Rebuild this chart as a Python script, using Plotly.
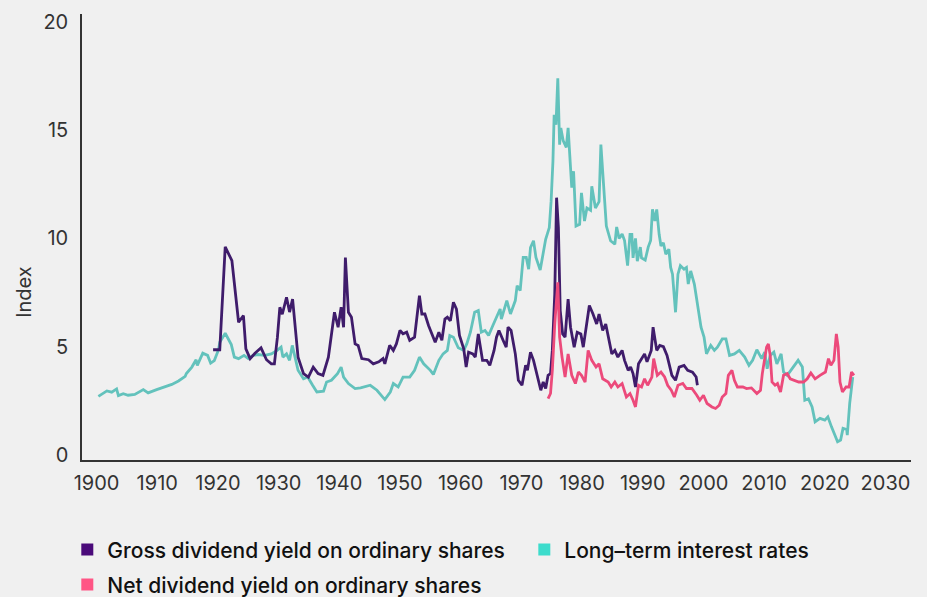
import plotly.graph_objects as go

# ---------------- data ----------------
long_years = [1900.3, 1901.7, 1902.5, 1903.3, 1903.6, 1904.4, 1905.2, 1906.3, 1907.7, 1908.5,
              1909.9, 1911.0, 1912.4, 1913.5, 1914.6, 1914.8, 1915.7, 1916.4, 1916.6, 1917.5,
              1918.3, 1918.8, 1919.4, 1920.1, 1920.3, 1921.2, 1921.8, 1922.2, 1922.7, 1923.4,
              1924.3, 1925.0, 1925.8, 1926.6, 1927.7, 1928.8, 1929.6, 1930.4, 1930.7, 1931.3,
              1931.8, 1932.25, 1932.7, 1933.2, 1934.1, 1934.8, 1935.6, 1936.3, 1937.4, 1937.9,
              1938.7, 1939.7, 1940.3, 1940.7, 1941.5, 1942.6, 1943.5, 1945.1, 1946.2, 1947.5,
              1948.4, 1948.9, 1949.7, 1950.5, 1951.6, 1952.4, 1953.2, 1953.9, 1955.0, 1955.5,
              1956.4, 1957.1, 1957.8, 1958.2, 1958.8, 1959.6, 1960.5, 1961.0, 1961.6, 1962.3,
              1962.9, 1963.4, 1964.0, 1964.6, 1965.3, 1965.9, 1966.5, 1966.7, 1967.6, 1968.2,
              1969.0, 1969.3, 1969.8, 1970.3, 1970.8, 1971.2, 1971.5, 1972.0, 1972.4, 1973.1,
              1973.6, 1974.0, 1974.6, 1974.9, 1975.2, 1975.4, 1975.7, 1976.0, 1976.3, 1976.5,
              1976.9, 1977.4, 1977.7, 1978.3, 1978.6, 1979.0, 1979.6, 1979.9, 1980.4, 1980.8,
              1981.4, 1981.6, 1982.2, 1982.8, 1983.1, 1983.6, 1984.0, 1984.7, 1985.4, 1985.7,
              1986.1, 1986.6, 1987.0, 1987.5, 1987.9, 1988.2, 1988.4, 1988.8, 1989.1, 1989.6,
              1989.8, 1990.4, 1990.9, 1991.3, 1991.6, 1992.0, 1992.3, 1992.7, 1993.0, 1993.4,
              1993.8, 1994.3, 1994.6, 1994.9, 1995.4, 1995.8, 1996.2, 1996.8, 1997.2, 1997.5,
              1997.9, 1998.5, 1999.0, 1999.6, 2000.1, 2000.5, 2001.2, 2001.8, 2002.3, 2003.1,
              2003.7, 2004.3, 2005.1, 2005.9, 2006.8, 2007.5, 2008.1, 2008.8, 2009.6, 2010.1,
              2010.5, 2011.0, 2011.6, 2012.1, 2012.8, 2013.2, 2013.8, 2014.6, 2015.6, 2016.3,
              2016.7, 2017.3, 2017.9, 2018.4, 2019.2, 2020.0, 2020.5, 2021.1, 2021.5, 2022.1,
              2022.6, 2023.0, 2023.6, 2023.7, 2024.1, 2024.6]
long_rates = [2.71, 2.96, 2.90, 3.05, 2.74, 2.83, 2.76, 2.80, 3.02, 2.87,
              3.02, 3.11, 3.26, 3.42, 3.63, 3.76, 4.06, 4.40, 4.14, 4.70,
              4.60, 4.24, 4.36, 4.86, 5.21, 5.62, 5.29, 5.10, 4.52, 4.45,
              4.60, 4.45, 4.60, 4.64, 4.60, 4.67, 4.80, 4.98, 4.52, 4.67,
              4.37, 5.06, 4.52, 3.91, 3.52, 3.60, 3.22, 2.91, 2.95, 3.37,
              3.45, 3.76, 4.06, 3.60, 3.30, 3.07, 3.10, 3.22, 2.99, 2.56,
              2.91, 3.30, 3.14, 3.60, 3.60, 3.91, 4.52, 4.21, 3.91, 3.72,
              4.37, 4.67, 4.83, 5.52, 5.44, 4.95, 4.83, 5.13, 5.67, 6.59,
              6.67, 5.67, 5.75, 5.52, 5.98, 6.36, 6.74, 6.28, 7.13, 6.51,
              7.13, 7.82, 7.59, 9.12, 9.12, 8.58, 9.58, 9.89, 9.12, 8.54,
              9.43, 9.96, 10.50, 11.72, 13.56, 15.71, 15.25, 17.39, 14.33, 15.10,
              14.50, 14.20, 15.10, 12.34, 13.10, 10.57, 10.65, 12.10, 10.80, 11.40,
              11.30, 12.41, 11.40, 11.70, 14.33, 12.49, 10.57, 9.89, 9.73, 10.53,
              10.00, 10.20, 9.90, 8.74, 10.19, 10.19, 9.10, 10.00, 8.95, 9.60,
              9.10, 9.00, 9.60, 9.90, 11.34, 10.80, 11.34, 10.19, 9.65, 9.80,
              9.27, 9.50, 8.66, 8.35, 6.59, 8.35, 8.74, 8.58, 8.66, 7.89,
              8.50, 7.89, 6.90, 5.90, 5.44, 4.67, 5.06, 4.83, 4.98, 5.36,
              5.36, 4.60, 4.67, 4.83, 4.52, 4.14, 4.37, 4.86, 4.45, 4.75,
              3.98, 4.60, 4.75, 4.21, 4.67, 3.83, 3.68, 3.98, 4.37, 4.06,
              2.53, 2.60, 2.22, 1.53, 1.69, 1.61, 1.76, 1.30, 1.00, 0.61,
              0.69, 1.23, 1.18, 0.92, 2.38, 3.60]

gross_years = [1919.2, 1920.3, 1921.2, 1922.3, 1923.4, 1924.2, 1924.6, 1925.3, 1926.1, 1927.1,
               1928.0, 1928.8, 1929.3, 1929.8, 1930.2, 1930.6, 1931.3, 1931.8, 1932.3, 1932.8,
               1933.2, 1934.1, 1934.9, 1935.7, 1936.5, 1937.3, 1938.2, 1939.2, 1939.8, 1940.3,
               1940.7, 1941.0, 1941.5, 1942.0, 1942.6, 1943.1, 1943.7, 1944.8, 1945.6, 1946.5,
               1947.2, 1947.5, 1948.3, 1948.9, 1949.4, 1950.0, 1950.5, 1951.1, 1951.6, 1952.4,
               1952.8, 1953.2, 1953.6, 1954.1, 1954.7, 1955.2, 1955.8, 1956.4, 1956.9, 1957.4,
               1957.8, 1958.3, 1958.8, 1959.3, 1959.8, 1960.5, 1960.9, 1961.3, 1962.0, 1962.4,
               1962.9, 1963.6, 1964.3, 1964.8, 1965.5, 1965.9, 1966.3, 1967.0, 1967.5, 1967.8,
               1968.3, 1969.0, 1969.5, 1970.1, 1970.7, 1971.0, 1971.5, 1972.0, 1972.6, 1973.2,
               1973.6, 1974.0, 1974.4, 1974.8, 1975.1, 1975.5, 1975.8, 1976.1, 1976.4, 1976.8,
               1977.2, 1977.7, 1978.1, 1978.7, 1979.2, 1979.8, 1980.2, 1980.7, 1981.2, 1981.8,
               1982.4, 1982.8, 1983.4, 1983.9, 1984.5, 1984.9, 1985.4, 1985.9, 1986.6, 1987.0,
               1987.6, 1988.0, 1988.4, 1988.8, 1989.3, 1989.8, 1990.3, 1990.7, 1991.4, 1991.7,
               1992.3, 1992.8, 1993.4, 1994.0, 1994.8, 1995.4, 1996.0, 1996.8, 1997.4, 1998.2,
               1998.8, 1999.0]
gross_yield = [4.86, 4.86, 9.61, 8.97, 6.13, 6.44, 4.90, 4.45, 4.70, 4.95,
               4.40, 4.21, 4.21, 5.44, 6.82, 6.50, 7.28, 6.60, 7.20, 5.75,
               4.52, 3.76, 3.60, 4.06, 3.76, 3.68, 4.52, 6.59, 5.90, 6.82,
               5.90, 9.12, 6.59, 6.36, 5.13, 5.06, 4.45, 4.40, 4.21, 4.30,
               4.45, 4.21, 5.06, 4.83, 5.13, 5.75, 5.60, 5.67, 5.29, 5.44,
               6.51, 7.36, 6.51, 6.51, 5.98, 5.60, 5.21, 5.67, 5.30, 6.28,
               6.36, 6.20, 7.05, 6.74, 5.52, 4.90, 4.06, 4.75, 4.67, 4.52,
               5.59, 4.37, 4.37, 4.14, 4.83, 5.44, 5.75, 5.29, 4.98, 5.90,
               5.75, 4.67, 3.45, 3.22, 4.14, 3.91, 4.75, 4.37, 3.60, 2.99,
               3.37, 3.07, 3.68, 3.76, 4.83, 7.43, 11.88, 10.50, 6.67, 5.59,
               5.44, 7.20, 5.90, 4.98, 5.67, 5.59, 4.98, 5.90, 6.90, 6.51,
               6.05, 6.51, 5.75, 6.05, 5.29, 4.67, 4.83, 4.52, 4.83, 4.37,
               3.91, 4.06, 3.76, 3.14, 4.21, 4.45, 4.67, 4.30, 4.83, 5.90,
               4.83, 5.06, 5.00, 4.60, 3.68, 3.45, 4.06, 4.14, 3.91, 3.83,
               3.60, 3.22]

net_years = [1974.4, 1974.8, 1975.1, 1975.5, 1976.0, 1976.3, 1976.7, 1977.2, 1977.7, 1978.3,
             1978.9, 1979.4, 1979.9, 1980.5, 1981.0, 1981.6, 1982.3, 1982.8, 1983.4, 1984.3,
             1984.8, 1985.4, 1985.9, 1986.6, 1987.3, 1987.9, 1988.4, 1988.8, 1989.3, 1989.8,
             1990.3, 1990.8, 1991.5, 1991.8, 1992.4, 1993.0, 1993.6, 1994.1, 1994.7, 1995.2,
             1995.8, 1996.6, 1997.2, 1998.1, 1998.9, 1999.4, 2000.0, 2000.6, 2001.4, 2002.0,
             2002.6, 2003.1, 2003.7, 2004.1, 2004.7, 2005.1, 2005.6, 2006.5, 2007.1, 2007.9,
             2008.8, 2009.4, 2009.7, 2010.1, 2010.4, 2010.7, 2011.0, 2011.3, 2011.8, 2012.2,
             2012.7, 2013.2, 2013.8, 2014.3, 2015.0, 2015.7, 2016.5, 2017.1, 2017.7, 2018.4,
             2019.2, 2020.1, 2020.6, 2021.0, 2021.5, 2021.9, 2022.2, 2022.5, 2022.9, 2023.5,
             2024.0, 2024.4, 2024.8]
net_yield = [2.60, 2.84, 3.91, 6.05, 7.97, 5.44, 4.52, 3.60, 4.67, 3.68,
             3.30, 3.83, 3.68, 3.37, 4.83, 4.37, 4.06, 4.21, 3.52, 3.37,
             3.14, 3.37, 3.14, 3.30, 2.68, 2.84, 2.53, 2.22, 3.22, 3.14,
             3.52, 3.22, 3.60, 4.45, 3.68, 3.83, 3.60, 3.22, 2.99, 2.68,
             3.22, 3.30, 3.07, 3.07, 2.76, 2.53, 2.76, 2.38, 2.22, 2.15,
             2.30, 2.68, 2.84, 3.68, 3.91, 3.45, 3.14, 3.14, 3.07, 3.10,
             2.84, 2.99, 3.76, 4.37, 4.98, 5.13, 4.60, 3.37, 3.22, 3.30,
             2.91, 3.68, 3.76, 3.52, 3.45, 3.37, 3.37, 3.52, 3.79, 3.52,
             3.68, 3.83, 4.45, 4.14, 4.37, 5.59, 4.98, 3.37, 2.91, 3.14,
             3.14, 3.83, 3.68]

series_names = ["Gross dividend yield on ordinary shares",
                "Long\u2013term interest rates",
                "Net dividend yield on ordinary shares"]
x_ticks = list(range(1900, 2031, 10))
y_ticks = [0, 5, 10, 15, 20]

# ---------------- styles ----------------
line_colors = ["#3f1c6b", "#63c2bc", "#ec4a7b"]
legend_colors = ["#4a0a7a", "#3ddccc", "#ff5585"]
BG = "#f0f0f0"
FONT = "Inter"

fig = go.Figure()
series_x = [gross_years, long_years, net_years]
series_y = [gross_yield, long_rates, net_yield]
# draw order: long-term first, gross, net on top
for i in [1, 0, 2]:
    fig.add_trace(go.Scatter(x=series_x[i], y=series_y[i], mode="lines",
                             line=dict(color=line_colors[i], width=2.8),
                             name=series_names[i], showlegend=False,
                             hoverinfo="x+y"))

# legend entries (square swatches), one legend box per entry for exact placement
legend_ids = ["legend", "legend3", "legend2"]
for i in range(3):
    fig.add_trace(go.Scatter(x=[None], y=[None], mode="markers",
                             marker=dict(symbol="square", size=12, color=legend_colors[i]),
                             name=series_names[i], legend=legend_ids[i], showlegend=True))

legend_font = dict(size=21, color="#111111", weight=500)
def legend_box(x, y):
    return dict(orientation="h", xref="container", yref="container",
                x=x, xanchor="left", y=y, yanchor="top",
                font=legend_font, bgcolor="rgba(0,0,0,0)")

fig.update_layout(
    width=927, height=597,
    paper_bgcolor=BG, plot_bgcolor=BG,
    margin=dict(l=82, r=16, t=14, b=137, autoexpand=False),
    font=dict(family=FONT, color="#333333"),
    xaxis=dict(range=[1897.6, 2034.2], tickvals=x_ticks, showgrid=False, zeroline=False,
               showline=True, linecolor="#333333", linewidth=1.5, ticks="",
               tickfont=dict(size=20, color="#333333"), ticklabelstandoff=4),
    yaxis=dict(range=[-0.23, 20.36], tickvals=y_ticks, showgrid=False, zeroline=False,
               showline=True, linecolor="#333333", linewidth=1.5, ticks="",
               tickfont=dict(size=20, color="#333333"), ticklabelstandoff=8),
    legend=legend_box(0.0726, 0.1133),
    legend3=legend_box(0.5656, 0.1133),
    legend2=legend_box(0.0726, 0.0546),
    annotations=[dict(text="Index", textangle=-90, xref="paper", yref="paper",
                      x=-0.0693, y=0.376, xanchor="center", yanchor="middle",
                      showarrow=False, font=dict(size=20, color="#333333"))],
)

fig.write_html("out.html", config={"displayModeBar": False})

# remove the browser's default page margin so the figure sits at (0, 0)
with open("out.html", "r", encoding="utf-8") as f:
    html = f.read()
html = html.replace("<head>", "<head><style>html,body{margin:0;padding:0;}</style>", 1)
with open("out.html", "w", encoding="utf-8") as f:
    f.write(html)
